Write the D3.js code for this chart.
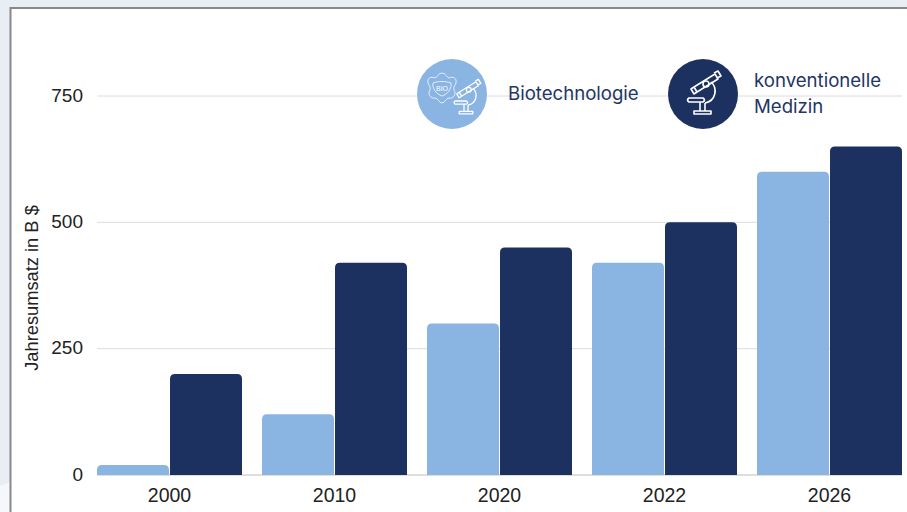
<!DOCTYPE html>
<html>
<head>
<meta charset="utf-8">
<script src="https://cdn.jsdelivr.net/npm/d3@7/dist/d3.min.js"></script>
<style>
    html, body { margin: 0; padding: 0; background: #e9edf4; overflow: hidden; }
    text { font-family: "Liberation Sans", Arial, sans-serif; fill: #222; }
    .legend-label { font-family: "Inter", sans-serif; fill: #1f3564; font-size: 18.6px; }
</style>
</head>
<body>
<div id="chart"></div>
<script>
const years = ['2000', '2010', '2020', '2022', '2026'];
const biotech = [20, 120, 300, 420, 600];
const conventional = [200, 420, 450, 500, 650];
const yTicks = [0, 250, 500, 750];
const seriesNames = ['biotech', 'conventional'];

const LIGHT = '#8ab4e2';
const DARK = '#1c3160';
const TICK_FONT = '"Liberation Sans", Arial, sans-serif';

const width = 907, height = 512;
const svg = d3.select('#chart').append('svg')
    .attr('width', width)
    .attr('height', height)
    .style('display', 'block');

// page behind the card, with the paler wedge in the bottom corner
svg.append('path')
    .attr('d', 'M0,486 L10,482 L10,512 L0,512 Z')
    .attr('fill', '#f5f7fa');

svg.append('rect')
    .attr('x', 10.5).attr('y', 8)
    .attr('width', width).attr('height', height)
    .attr('fill', '#fff')
    .attr('stroke', '#85888c')
    .attr('stroke-width', 2);

const x = d3.scaleBand().domain(years).range([97, 902]).paddingInner(20 / 165);
const x1 = d3.scaleBand().domain(seriesNames).range([0, x.bandwidth()]).paddingInner(0.014);
const y = d3.scaleLinear().domain([0, 750]).range([475, 96]);

// gridlines
svg.append('g')
    .selectAll('line')
    .data(yTicks)
    .enter()
    .append('line')
    .attr('x1', 97)
    .attr('x2', 902)
    .attr('y1', d => y(d))
    .attr('y2', d => y(d))
    .attr('stroke', d => d === 0 ? '#bdbdbd' : '#dcdcdc')
    .attr('stroke-width', 1);

// bars with rounded top corners
const barPath = (bx, by, bw) => {
    const base = y(0);
    const r = Math.min(5, (base - by));
    return `M${bx},${base}V${by + r}Q${bx},${by} ${bx + r},${by}H${bx + bw - r}Q${bx + bw},${by} ${bx + bw},${by + r}V${base}Z`;
};

const drawSeries = (name, values, color) => {
    svg.append('g')
        .selectAll('path')
        .data(values)
        .enter()
        .append('path')
        .attr('fill', color)
        .attr('d', (d, i) => barPath(x(years[i]) + x1(name), y(d), x1.bandwidth()));
};
drawSeries('biotech', biotech, LIGHT);
drawSeries('conventional', conventional, DARK);

// axes
const yAxis = svg.append('g')
    .attr('transform', 'translate(83,-1)')
    .call(d3.axisLeft(y).tickValues(yTicks).tickSize(0).tickPadding(0));
yAxis.select('.domain').remove();
yAxis.selectAll('text').style('font-size', '19px').style('font-family', TICK_FONT).attr('fill', '#222');

const xAxis = svg.append('g')
    .attr('transform', 'translate(0,475)')
    .call(d3.axisBottom(x).tickSize(0).tickPadding(13));
xAxis.select('.domain').remove();
xAxis.selectAll('text').style('font-size', '19.5px').style('font-family', TICK_FONT).attr('fill', '#222');

svg.append('text')
    .attr('transform', 'translate(38,288) rotate(-90)')
    .attr('text-anchor', 'middle')
    .style('font-size', '18.3px')
    .text('Jahresumsatz in B $');

// legend icons: white line drawing of a microscope, centred on the dark circle
const drawMicroscope = (g) => {
    const s = g.append('g')
        .attr('fill', 'none')
        .attr('stroke', '#fff')
        .attr('stroke-width', 1.6)
        .attr('stroke-linejoin', 'round');
    s.append('path').attr('d', 'M-9,-7 L12,-20 L15,-15 L-6,-2 Z');
    s.append('path').attr('d', 'M11,-21 L15,-23 L18,-18 L14,-16');
    s.append('path').attr('d', 'M-9,-7 L-12,-5 L-9,0 L-6,-2');
    s.append('circle').attr('cx', 3).attr('cy', -10).attr('r', 3);
    s.append('path').attr('d', 'M8,-12 C15,-6 13,7 2,9');
    s.append('path').attr('d', 'M-14,4 H0 Q3,6 0,8 H-14 Q-17,6 -14,4 Z');
    s.append('path').attr('d', 'M-3,8 V17 M2,9 V17');
    s.append('path').attr('d', 'M-9,17 H8 V20 H-9 Z');
};

const bioLegend = svg.append('g').attr('transform', 'translate(452,94)');
bioLegend.append('circle').attr('r', 35).attr('fill', LIGHT);
drawMicroscope(bioLegend.append('g').attr('transform', 'translate(14.4,3.8) scale(0.8)'));
const flower = bioLegend.append('g')
    .attr('transform', 'translate(-10,-6)')
    .attr('fill', 'none')
    .attr('stroke', '#fff')
    .attr('stroke-opacity', 0.75)
    .attr('stroke-width', 1);
flower.append('path').attr('d', 'M0,-15 C4,-15 5,-10 7,-10 C11,-12 15,-10 14,-5 C13,-2 11,-1 12,2 C15,6 11,11 7,10 C4,10 3,15 0,15 C-3,15 -4,10 -7,10 C-11,11 -15,6 -12,2 C-11,-1 -13,-2 -14,-5 C-15,-10 -11,-12 -7,-10 C-5,-10 -4,-15 0,-15 Z');
flower.append('path').attr('d', 'M-9,-5 C-4,-7 4,-7 9,-5 C10,0 6,6 0,8 C-6,6 -10,0 -9,-5 Z');
flower.append('text')
    .attr('text-anchor', 'middle')
    .attr('y', 3)
    .attr('stroke', 'none')
    .style('fill', '#fff')
    .style('font-size', '7px')
    .text('BIO');

const convLegend = svg.append('g').attr('transform', 'translate(703,94)');
convLegend.append('circle').attr('r', 35).attr('fill', DARK);
drawMicroscope(convLegend.append('g'));

svg.append('text').attr('class', 'legend-label').attr('x', 508).attr('y', 100).text('Biotechnologie');
svg.append('text').attr('class', 'legend-label').attr('x', 754).attr('y', 87).text('konventionelle');
svg.append('text').attr('class', 'legend-label').attr('x', 754).attr('y', 113).text('Medizin');
</script>
</body>
</html>
